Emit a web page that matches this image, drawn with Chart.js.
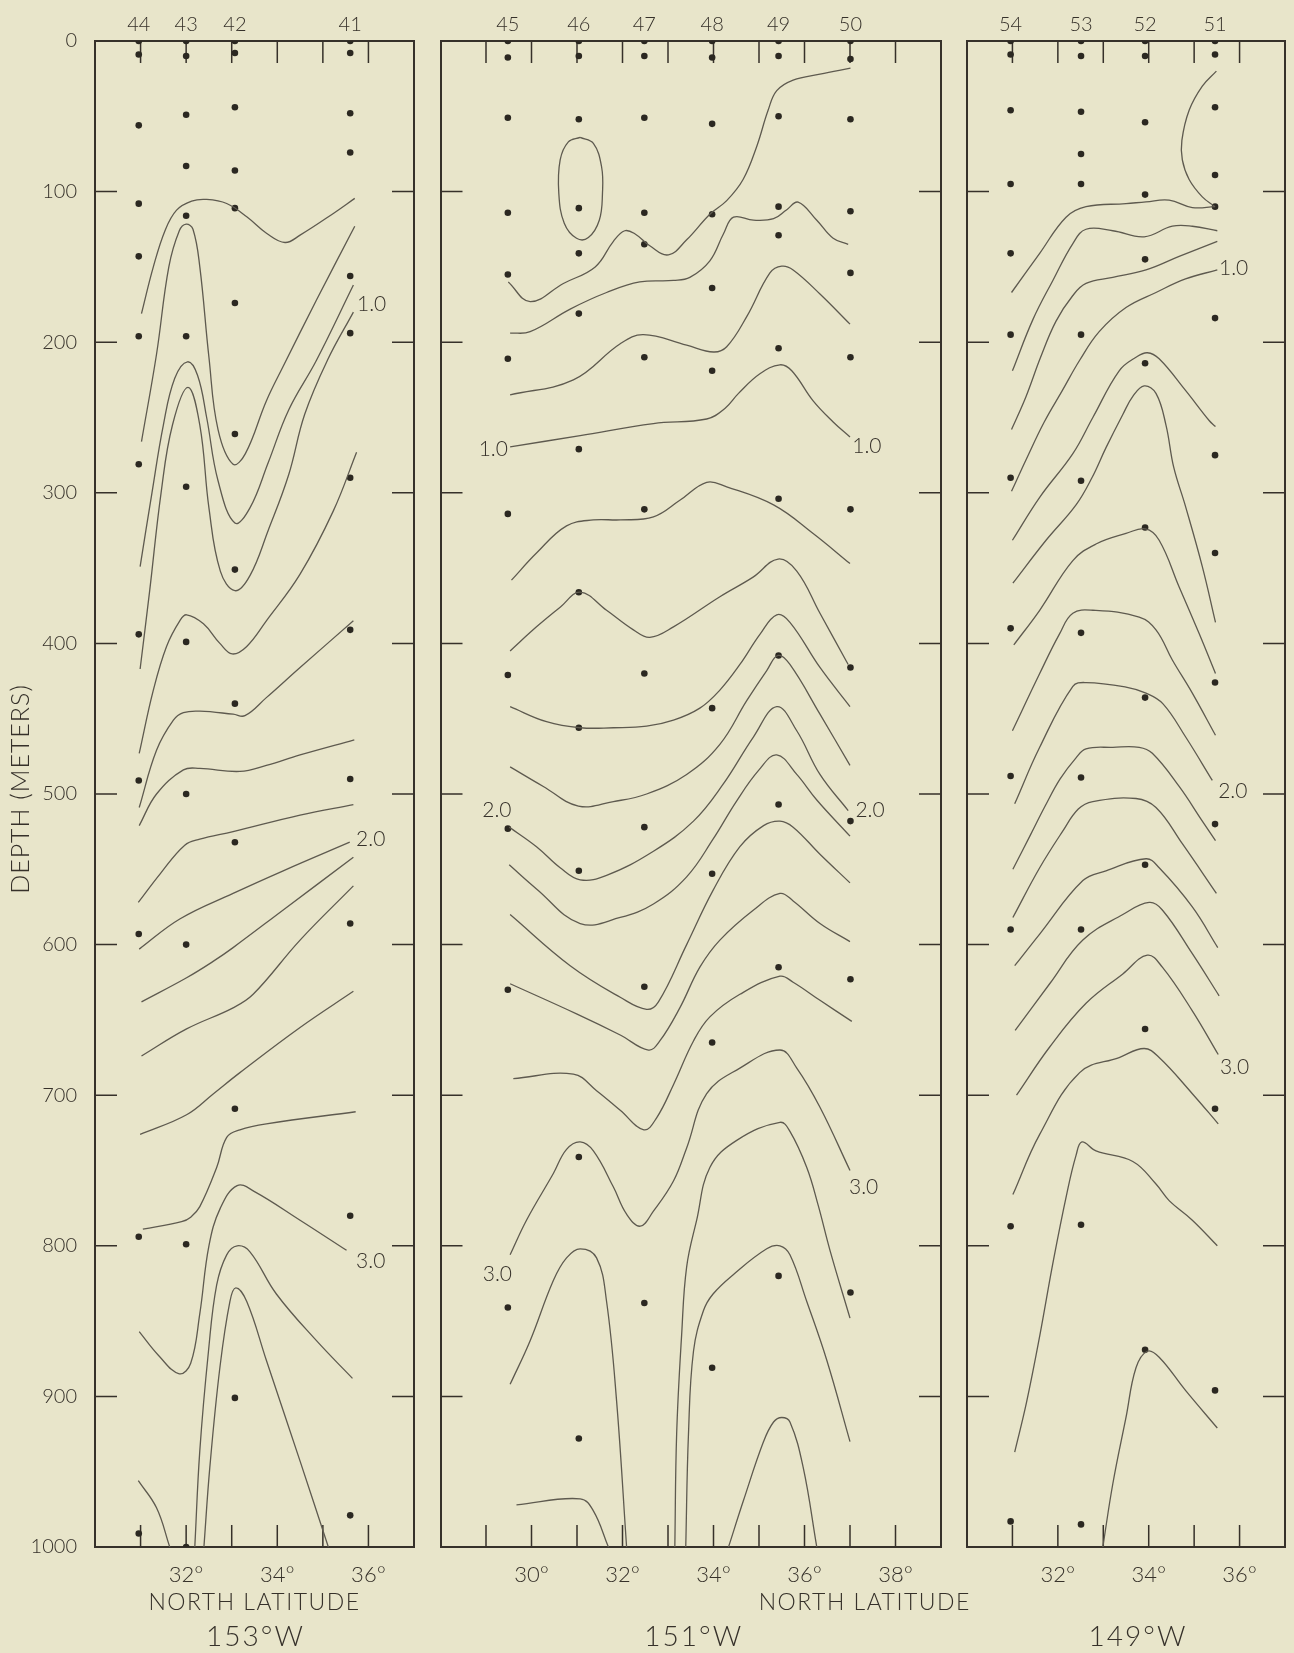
<!DOCTYPE html>
<html>
<head>
<meta charset="utf-8">
<script src="https://cdn.jsdelivr.net/npm/chart.js@4.4.1/dist/chart.umd.min.js"></script>
<style>
  html, body { margin: 0; padding: 0; background: #e8e5ca; }
  #page { position: relative; width: 1294px; height: 1653px; background: #e8e5ca; overflow: hidden; }
  #page canvas { position: absolute; top: 0; }
</style>
</head>
<body>
<div id="page">
  <canvas id="c153" width="440" height="1653" style="left:0px"></canvas>
  <canvas id="c151" width="570" height="1653" style="left:430px"></canvas>
  <canvas id="c149" width="337" height="1653" style="left:957px"></canvas>
</div>
<script>
// ---- 153°W section ----
const stations153 = ['44', '43', '42', '41'];
const stationLat153 = [30.96, 32.0, 33.07, 35.6];
const samples153 = [
  [0, 9, 56, 108, 143, 196, 281, 394, 491, 593, 794, 991],
  [0, 10, 49, 83, 116, 196, 296, 399, 500, 600, 799, 1000],
  [0, 8, 44, 86, 111, 174, 261, 351, 440, 532, 709, 901],
  [0, 8, 48, 74, 156, 194, 290, 391, 490, 586, 780, 979]
];
// isolines as [latitude, depth] pairs
const isolines153 = [
  [[31.02,181],[31.28,150],[31.54,125.6],[31.79,112.3],[32.12,106.3],[32.45,105.2],[32.89,107.9],[33.33,116.7],[33.77,127.8],[34.17,133.8],[34.5,128.9],[35.23,114.5],[35.7,104.5]],
  [[31.02,266],[31.35,208],[31.62,150],[31.85,126],[32.0,121.6],[32.15,125],[32.3,150],[32.5,210],[32.7,258],[33.03,281],[33.3,274],[33.76,239],[34.13,216],[34.86,172],[35.7,123]],
  [[30.99,349],[31.25,300],[31.5,255],[31.75,224],[32.03,213],[32.25,222],[32.45,250],[32.7,292],[33.07,320],[33.4,310],[33.8,280],[34.25,245],[34.86,212],[35.67,162]],
  [[30.99,417],[31.2,365],[31.45,300],[31.7,255],[32.04,230],[32.3,255],[32.5,310],[32.75,352],[33.07,365],[33.4,355],[33.8,325],[34.25,288],[34.6,248],[35.1,212],[35.67,180]],
  [[30.97,473],[31.28,431],[31.57,402],[31.86,385],[32.01,381],[32.38,387],[32.74,400],[33.01,407],[33.33,402],[33.76,385],[34.5,354],[35.23,312],[35.74,273]],
  [[30.97,509],[31.35,471],[31.72,451],[31.94,446],[32.3,445],[33.03,447],[33.29,448],[33.76,436],[34.5,416],[35.67,385]],
  [[30.97,521],[31.35,500],[31.94,484],[32.3,483],[33.18,485],[33.76,481],[34.5,474],[35.69,464]],
  [[30.95,572],[31.43,553],[31.97,534],[32.3,530],[33.03,525],[34.5,514],[35.67,507]],
  [[30.97,603],[31.86,583],[33.03,566],[34.13,551],[35.59,532]],
  [[31.02,638],[32.01,622],[32.6,611],[33.03,602],[34.13,577],[35.67,542]],
  [[31.02,674],[32.01,656],[33.03,642],[33.47,633],[34.5,597],[35.67,561]],
  [[30.99,726],[32.01,713],[32.6,699],[33.18,685],[34.5,655],[35.67,631]],
  [[31.05,789],[31.9,784],[32.1,781],[32.3,774],[32.67,748],[32.89,728],[33.18,723],[33.76,719],[35.72,711]],
  [[30.97,857],[31.4,873],[31.85,885],[32.1,878],[32.3,845],[32.5,800],[32.75,775],[33.12,760],[33.5,764],[34.5,783],[35.52,803]],
  [[32.19,1000],[32.3,936],[32.49,870],[32.67,826],[32.89,806],[33.12,800],[33.4,804],[33.98,832],[34.86,863],[35.65,888]],
  [[32.39,1000],[32.52,947],[32.74,881],[32.96,837],[33.09,828],[33.33,837],[33.76,876],[34.5,943],[35.12,1000]],
  [[30.95,956],[31.35,974],[31.64,1000]]
];
const isoLabels153 = [['1.0', 36.07, 175], ['2.0', 36.05, 530], ['3.0', 36.05, 810]];

// ---- 151°W section ----
const stations151 = ['45', '46', '47', '48', '49', '50'];
const stationLat151 = [29.48, 31.04, 32.48, 33.97, 35.43, 37.01];
const samples151 = [
  [0, 11, 51, 114, 155, 211, 314, 421, 523, 630, 841],
  [0, 10, 52, 111, 141, 181, 271, 366, 456, 551, 741, 928],
  [0, 10, 51, 114, 135, 210, 311, 420, 522, 628, 838],
  [0, 11, 55, 115, 164, 219, 443, 553, 665, 881],
  [0, 10, 50, 110, 129, 204, 304, 408, 507, 615, 820],
  [0, 12, 52, 113, 154, 210, 311, 416, 518, 623, 831]
];
const isolines151 = [
  [[31.07,64],[31.36,68],[31.54,83.5],[31.56,101],[31.49,119],[31.25,130.5],[30.99,131],[30.72,121],[30.6,101],[30.63,79],[30.81,67],[31.07,64]],
  [[37.01,18],[36.34,22],[35.75,26],[35.39,33],[35.2,46],[34.95,70],[34.65,92],[34.29,106],[33.92,115],[33.41,132],[33.01,142],[32.6,136],[32.27,128],[32.05,126],[31.8,133],[31.4,150],[30.7,161],[29.97,173],[29.49,160]],
  [[36.96,135],[36.63,131],[36.27,119],[35.86,107],[35.61,112],[35.32,118],[34.88,119],[34.44,117],[34.22,128],[33.92,146],[33.48,157],[33.12,159],[32.38,160],[31.65,167],[30.85,178],[29.97,193],[29.53,194]],
  [[37.0,188],[36.34,168],[35.75,152],[35.5,149.5],[35.24,154],[34.73,183],[34.29,203],[34.0,206.5],[33.41,202],[32.46,195],[31.95,201],[30.92,225],[29.53,235]],
  [[29.53,269.5],[31.07,262],[32.68,254],[33.85,251],[34.25,244],[34.55,234],[35.02,221],[35.46,215],[35.72,219],[36.19,239],[36.63,253],[37.0,263]],
  [[29.56,358],[30.11,340],[30.77,322],[31.36,318],[31.95,318],[32.68,316],[33.26,305],[33.85,293],[34.29,296],[35.32,308],[36.19,327],[37.0,347]],
  [[29.53,405],[30.11,389],[30.63,376],[31.07,366],[31.65,378],[32.24,391],[32.6,396],[33.12,389],[34.14,369],[34.87,356],[35.42,344],[35.83,352],[36.34,380],[36.96,414]],
  [[29.53,442],[30.33,452],[31.07,456],[31.8,456],[32.53,455],[33.12,451],[33.7,443],[34.14,431],[34.58,414],[35.02,394],[35.39,381],[35.68,386],[36.34,416],[37.0,442]],
  [[29.53,482],[30.26,495],[31.03,508],[31.8,505],[32.53,500],[33.41,487],[34.14,467],[34.73,438],[35.17,418],[35.42,408],[35.68,414],[36.34,447],[37.0,481]],
  [[29.51,522],[30.11,535],[30.63,549],[31.07,557],[31.65,554],[32.68,538],[33.56,518],[34.2,494],[34.88,462],[35.39,442],[35.83,458],[36.34,487],[36.96,511]],
  [[29.51,547],[30.11,563],[31.07,586],[31.95,582],[32.68,573],[33.41,555],[33.99,530],[34.5,505],[35.0,484],[35.39,474],[35.83,487],[36.27,504],[37.0,528]],
  [[29.53,580],[30.85,614],[31.95,635],[32.53,643],[32.79,638],[33.41,600],[33.99,564],[34.58,535],[35.1,521],[35.46,518],[35.75,522],[36.34,540],[37.0,559]],
  [[29.53,626],[30.99,646],[31.95,660],[32.57,670],[32.82,664],[33.26,642],[33.7,615],[34.14,597],[34.88,577],[35.46,566],[35.75,571],[36.34,586],[37.0,598]],
  [[29.6,689],[30.92,686],[31.43,697],[31.95,710],[32.47,723],[32.75,715],[33.12,693],[33.56,664],[33.92,648],[34.58,633],[35.46,621],[35.75,625],[36.34,637],[37.04,651]],
  [[29.53,806],[29.89,783],[30.48,752],[30.77,736],[31.07,731],[31.36,737],[31.8,761],[32.09,779],[32.39,787],[32.68,777],[33.12,757],[33.41,735],[33.85,699],[34.58,682],[35.46,670],[35.83,682],[36.34,708],[37.0,750]],
  [[33.15,1000],[33.19,925],[33.3,859],[33.41,814],[33.63,783],[33.92,748],[34.51,730],[35.46,718],[35.68,724],[36.05,748],[36.3,773],[36.56,803],[37.0,848]],
  [[33.39,1000],[33.45,925],[33.56,870],[33.78,843],[33.99,832],[34.44,819],[35.17,802],[35.46,800],[35.68,806],[36.05,837],[36.49,876],[37.0,930]],
  [[34.33,1000],[34.66,969],[35.1,930],[35.32,917],[35.5,914],[35.68,917],[35.97,947],[36.27,1000]],
  [[29.53,892],[29.97,863],[30.48,823],[30.77,808],[31.07,802],[31.43,808],[31.65,837],[31.87,903],[32.09,1000]],
  [[29.67,972],[31.07,968],[31.36,976],[31.69,1000]]
];
const isoLabels151 = [['1.0', 29.16, 271], ['1.0', 37.37, 269], ['2.0', 29.24, 511], ['2.0', 37.44, 511], ['3.0', 29.25, 819], ['3.0', 37.3, 761]];

// ---- 149°W section ----
const stations149 = ['54', '53', '52', '51'];
const stationLat149 = [30.96, 32.51, 33.92, 35.46];
const samples149 = [
  [0, 9, 46, 95, 141, 195, 290, 390, 488, 590, 787, 983],
  [0, 10, 47, 75, 95, 195, 292, 393, 489, 590, 786, 985],
  [0, 10, 54, 102, 145, 214, 323, 436, 547, 656, 869],
  [0, 9, 44, 89, 110, 184, 275, 340, 426, 520, 709, 896]
];
const isolines149 = [
  [[35.49,20],[35.18,30],[34.89,46],[34.73,66],[34.74,79],[34.89,92],[35.18,103.5],[35.46,110]],
  [[35.46,110],[34.96,110.6],[34.45,105.7],[33.94,106.8],[33.5,108],[32.62,110],[32.18,117],[31.6,141],[30.98,167]],
  [[31.0,219],[31.45,185],[31.89,159],[32.33,134.5],[32.62,125],[33.21,126],[33.9,130],[34.52,123],[34.96,123],[35.51,126]],
  [[30.98,258],[31.3,236],[31.62,210],[31.96,186],[32.33,169],[32.62,161],[33.21,157],[33.94,152],[34.67,143],[35.51,133]],
  [[30.98,299],[31.3,278],[31.7,253],[32.1,232],[32.48,212],[32.91,193],[33.5,177],[34.16,167],[34.81,158],[35.51,152]],
  [[31.0,331.5],[31.6,303],[32.33,274],[32.77,250],[33.35,219],[33.72,210],[33.97,207],[34.23,211],[34.81,232],[35.33,252],[35.47,256]],
  [[31.01,360],[31.74,331.5],[32.4,308],[32.75,290],[33.06,270],[33.43,248],[33.65,236],[33.9,229],[34.16,234],[34.38,255],[34.55,283],[34.81,309],[35.18,349],[35.47,386]],
  [[31.03,401],[31.6,378],[32.33,345],[32.84,334],[33.5,327],[33.93,324],[34.23,331.5],[34.67,362.5],[35.11,393.5],[35.47,420]],
  [[31.0,458],[31.6,420],[32.04,393.5],[32.33,380],[32.77,378],[33.79,382.5],[34.16,391],[34.52,411],[34.96,433],[35.47,461]],
  [[31.05,506.5],[31.6,469],[32.33,428.5],[32.62,426],[33.5,429],[33.94,433],[34.31,440],[34.81,462],[35.4,491]],
  [[31.01,550],[31.4,527],[31.72,508],[32.05,490],[32.4,476],[32.62,470],[33.21,469],[33.79,469],[34.08,473],[34.67,495],[35.18,518],[35.47,531]],
  [[31.01,582],[31.6,549],[32.1,525],[32.45,510],[32.77,505],[33.72,503],[34.16,509],[34.74,533],[35.49,566]],
  [[31.05,614],[31.6,593],[32.55,557.5],[33.06,551],[33.94,543],[34.23,549],[34.96,575],[35.52,602]],
  [[31.06,657],[31.82,626],[32.55,597],[33.43,580],[34.01,572],[34.3,577],[34.96,606],[35.55,634]],
  [[31.09,700],[31.82,668],[32.62,639],[33.43,619.5],[33.97,607],[34.3,615],[34.96,644],[35.53,673]],
  [[31.01,766],[31.6,726],[32.48,685],[33.35,675],[33.9,669],[34.23,675],[34.96,699],[35.53,719]],
  [[31.05,937],[31.31,904],[31.6,860],[31.9,810],[32.2,765],[32.4,740],[32.53,731],[32.84,737],[33.65,744],[34.16,759],[34.45,770],[34.96,783],[35.51,800]],
  [[32.99,1000],[33.21,958],[33.5,914],[33.72,881],[33.97,870],[34.23,874],[34.81,896],[35.51,921]]
];
const isoLabels149 = [['1.0', 35.87, 151], ['2.0', 35.85, 498], ['3.0', 35.89, 681.5]];

const ink = '#36312a';
const lineInk = '#5e5a4f';
const family = "Lato, 'DejaVu Sans', sans-serif";
Chart.defaults.font.family = family;
Chart.defaults.font.weight = '300';
Chart.defaults.color = ink;

// short inward ticks on all four sides of a frame
const frameTicks = {
  id: 'frameTicks',
  beforeDatasetsDraw(chart) {
    const { ctx, chartArea: a, scales: { x, y } } = chart;
    const len = 22;
    ctx.save();
    ctx.strokeStyle = ink;
    ctx.lineWidth = 1.5;
    ctx.beginPath();
    x.ticks.forEach(t => {
      if (t.value <= x.min || t.value >= x.max) return;
      const px = x.getPixelForValue(t.value);
      ctx.moveTo(px, a.top); ctx.lineTo(px, a.top + len);
      ctx.moveTo(px, a.bottom); ctx.lineTo(px, a.bottom - len);
    });
    y.ticks.forEach(t => {
      if (t.value <= y.min || t.value >= y.max) return;
      const py = y.getPixelForValue(t.value);
      ctx.moveTo(a.left, py); ctx.lineTo(a.left + len, py);
      ctx.moveTo(a.right, py); ctx.lineTo(a.right - len, py);
    });
    ctx.stroke();
    ctx.restore();
  }
};

// isoline values, captions under the frames, depth title
const panelText = {
  id: 'panelText',
  afterDraw(chart, args, opts) {
    const { ctx, chartArea: a, scales: { x, y } } = chart;
    ctx.save();
    ctx.fillStyle = ink;
    ctx.textAlign = 'center';
    ctx.textBaseline = 'middle';
    ctx.font = '300 21px ' + family;
    opts.iso.forEach(([txt, lat, d]) => {
      ctx.fillText(txt, x.getPixelForValue(lat), y.getPixelForValue(d));
    });
    opts.captions.forEach(c => {
      ctx.font = '300 ' + c.size + 'px ' + family;
      ctx.letterSpacing = c.sp + 'px';
      ctx.fillText(c.text, (a.left + a.right) / 2 + c.dx, c.y);
    });
    if (opts.yTitle) {
      const t = opts.yTitle;
      ctx.font = '300 ' + t.size + 'px ' + family;
      ctx.letterSpacing = t.sp + 'px';
      ctx.translate(t.x, (a.top + a.bottom) / 2 + t.dy);
      ctx.rotate(-Math.PI / 2);
      ctx.fillText(t.text, 0, 0);
    }
    ctx.restore();
  }
};

function makePanel(id, p) {
  const dots = [];
  p.lats.forEach((lat, i) => p.samples[i].forEach(d => dots.push({ x: lat, y: d })));
  const datasets = p.isolines.map(line => ({
    data: line.map(pt => ({ x: pt[0], y: pt[1] })),
    showLine: true,
    pointRadius: 0,
    borderColor: lineInk,
    borderWidth: 1.3,
    tension: 0.4,
    clip: 0
  }));
  datasets.push({
    data: dots,
    showLine: false,
    pointRadius: 3.3,
    pointBackgroundColor: '#2b2821',
    pointBorderWidth: 0,
    clip: 0
  });
  const border = { display: true, color: ink, width: 2 };
  return new Chart(document.getElementById(id), {
    type: 'scatter',
    data: { datasets },
    options: {
      responsive: false,
      animation: false,
      events: [],
      layout: { padding: { left: p.padL, right: p.padR, top: 0, bottom: 0 } },
      plugins: {
        legend: { display: false },
        tooltip: { enabled: false },
        panelText: { iso: p.isoLabels, captions: p.captions, yTitle: p.yTitle }
      },
      scales: {
        x: {
          type: 'linear', position: 'bottom', min: p.min, max: p.max,
          grid: { display: false }, border,
          ticks: {
            stepSize: 1, autoSkip: false, maxRotation: 0, padding: 7,
            font: { size: 22 },
            callback: v => (v % 2 === 0 && v > p.min) ? v + '°' : ''
          },
          afterFit: s => { s.height = 106; }
        },
        top: {
          type: 'linear', position: 'top', min: p.min, max: p.max,
          grid: { display: false }, border,
          afterBuildTicks: s => { s.ticks = p.lats.map(v => ({ value: v })); },
          ticks: {
            autoSkip: false, maxRotation: 0, padding: -4,
            font: { size: 20 },
            callback: (v, i) => p.names[i]
          },
          afterFit: s => { s.height = 41; }
        },
        y: {
          type: 'linear', position: 'left', reverse: true, min: 0, max: 1000,
          grid: { display: false }, border,
          ticks: {
            stepSize: 100, display: p.yLabels, padding: 10,
            font: { size: 20 },
            callback: v => String(v)
          },
          afterFit: s => { s.width = p.yWidth; }
        },
        right: {
          type: 'linear', position: 'right', reverse: true, min: 0, max: 1000,
          grid: { display: false }, border,
          ticks: { display: false, stepSize: 100 },
          afterFit: s => { s.width = 0; }
        }
      }
    },
    plugins: [frameTicks, panelText]
  });
}

makePanel('c153', {
  names: stations153, lats: stationLat153, samples: samples153,
  isolines: isolines153, isoLabels: isoLabels153,
  min: 30, max: 37, padL: 0, padR: 26, yWidth: 95, yLabels: true,
  captions: [
    { text: 'NORTH LATITUDE', dx: 0, y: 1603, size: 23, sp: 1.5 },
    { text: '153°W', dx: 1, y: 1637, size: 28, sp: 2 }
  ],
  yTitle: { text: 'DEPTH (METERS)', x: 21, dy: -5, size: 25, sp: 1 }
});

makePanel('c151', {
  names: stations151, lats: stationLat151, samples: samples151,
  isolines: isolines151, isoLabels: isoLabels151,
  min: 28, max: 39, padL: 10.5, padR: 59, yWidth: 0, yLabels: false,
  captions: [
    { text: 'NORTH LATITUDE', dx: 174, y: 1603, size: 23, sp: 1.5 },
    { text: '151°W', dx: 3, y: 1637, size: 28, sp: 2 }
  ]
});

makePanel('c149', {
  names: stations149, lats: stationLat149, samples: samples149,
  isolines: isolines149, isoLabels: isoLabels149,
  min: 30, max: 37, padL: 10, padR: 9, yWidth: 0, yLabels: false,
  captions: [
    { text: '149°W', dx: 12, y: 1637, size: 28, sp: 2 }
  ]
});
</script>
</body>
</html>
